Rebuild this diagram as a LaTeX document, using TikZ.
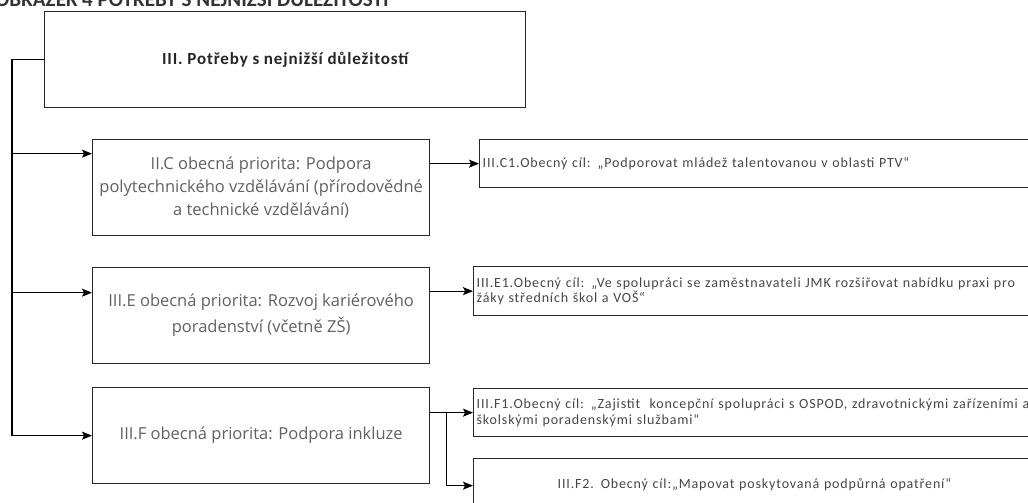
\documentclass[tikz,border=0pt]{standalone}
\usepackage{fontspec}
\setmainfont{Carlito}
\newfontfamily\midfont{Open Sans}
\newfontfamily\goalfont[LetterSpace=6]{Carlito}
\newfontfamily\topfont[LetterSpace=5]{Carlito}
\usetikzlibrary{arrows.meta}
\begin{document}
\begin{tikzpicture}[x=1pt,y=-1pt,
  box/.style={draw=black!85, line width=1.3pt, inner sep=0pt},
  arr/.style={-{Stealth[length=10pt,width=8pt,inset=2pt]}, line width=1.2pt, draw=black},
  ln/.style={line width=1.2pt, draw=black},
  midbox/.style={box, minimum width=337, minimum height=96, anchor=north west,
    font=\midfont\fontsize{16.5}{23}\selectfont, text=black!62, align=center},
  goalbox/.style={box, anchor=north west, text width=600, inner xsep=3pt,
    font=\goalfont\fontsize{14}{15.5}\selectfont, text=black!72, align=left}]
\clip (0,0) rectangle (1028,503);
\fill[white] (0,0) rectangle (1028,503);
\useasboundingbox (0,0) rectangle (1028,503);

% caption at the top, cut off by the frame
\node[anchor=base west, inner sep=0pt, font=\bfseries\fontsize{21}{21}\selectfont, text=black!80] (hdr) at (-5,7) {OBRÁZEK 4 POTŘEBY S NEJNIŽŠÍ DŮLEŽITOSTÍ};

% top box
\node[box, anchor=north west, minimum width=481, minimum height=96,
  font=\topfont\bfseries\fontsize{17}{19}\selectfont, text=black!85] (top) at (44,11) {III. Potřeby s nejnižší důležitostí};

% priority boxes
\node[midbox] (C) at (92,139) {II.C obecná priorita: Podpora\\polytechnického vzdělávání (přírodovědné\\a technické vzdělávání)};
\node[midbox, font=\midfont\fontsize{16.5}{26}\selectfont] (E) at (92,267) {III.E obecná priorita: Rozvoj kariérového\\poradenství (včetně ZŠ)};
\node[midbox] (F) at (92,387) {III.F obecná priorita: Podpora inkluze};

% goal boxes
\node[goalbox, minimum height=48] (C1) at (479,139) {III.C1.Obecný cíl: „Podporovat mládež talentovanou v oblasti PTV“};
\node[goalbox, minimum height=49] (E1) at (473,266) {III.E1.Obecný cíl: „Ve spolupráci se zaměstnavateli JMK rozšiřovat nabídku praxi pro\\žáky středních škol a VOŠ“};
\node[goalbox, minimum height=48] (F1) at (473,388) {III.F1.Obecný cíl: „Zajistit \ koncepční spolupráci s OSPOD, zdravotnickými zařízeními a\\školskými poradenskými službami“};
\node[goalbox, minimum height=52] (F2) at (473,458) {\hspace*{81pt}III.F2. Obecný cíl:„Mapovat poskytovaná podpůrná opatření“};

% entry points
\coordinate (Cin) at ([yshift=34pt]C.west);
\coordinate (Ein) at ([yshift=23pt]E.west);
\coordinate (F2in) at ([yshift=-1pt]F2.west);

% trunk on the left
\coordinate (t0) at ([xshift=-32pt]top.west);
\draw[ln] (top.west) -- (t0) -- (t0 |- F.west);
\draw[arr] (t0 |- Cin) -- (Cin);
\draw[arr] (t0 |- Ein) -- (Ein);
\draw[arr] (t0 |- F.west) -- (F.west);

% to goals
\draw[arr] (C.east |- C1.west) -- (C1.west);
\draw[arr] (E.east |- E1.west) -- (E1.west);
\coordinate (fb) at ([xshift=16pt]F.east |- F1.west);
\draw[arr] (F.east |- F1.west) -- (F1.west);
\draw[arr] (fb) -- (fb |- F2in) -- (F2in);
\end{tikzpicture}
\end{document}
